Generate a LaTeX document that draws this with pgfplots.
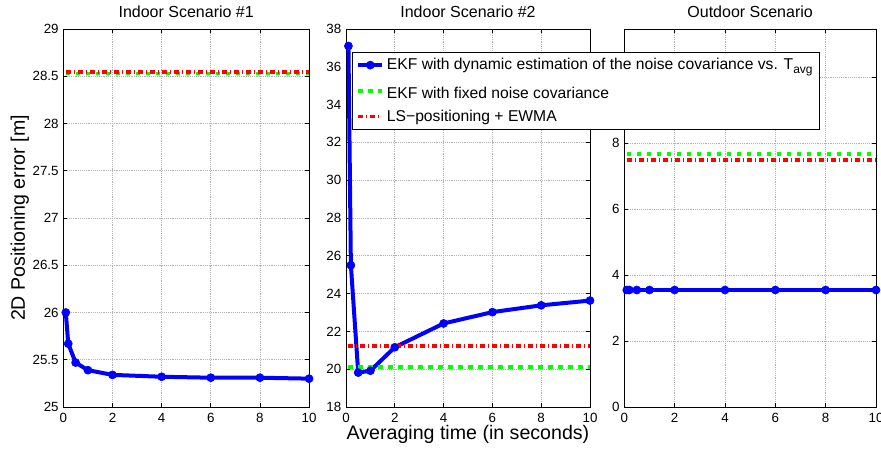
\documentclass[border=0pt]{standalone}
\usepackage{pgfplots}
\pgfplotsset{compat=1.18}
\usepackage{fontspec}
\setmainfont{Liberation Sans}
\definecolor{mblue}{RGB}{0,0,255}
\definecolor{mgreen}{RGB}{0,255,0}
\definecolor{mred}{RGB}{255,0,0}
\pgfplotsset{
  every axis/.style={
    scale only axis,
    height=283.5pt,
    anchor=south west,
    xmin=0, xmax=10,
    xtick={0,2,...,10},
    grid=major,
    grid style={densely dotted, gray!60, line width=0.5pt},
    axis line style={line width=0.6pt},
    tick style={black, line width=0.5pt},
    major tick length=3pt,
    tick align=inside,
    /pgf/number format/assume math mode=true,
    tick label style={font=\fontsize{10pt}{12pt}\selectfont},
    title style={font=\fontsize{12pt}{14pt}\selectfont, yshift=-1pt},
    label style={font=\fontsize{14.7pt}{17pt}\selectfont},
    xticklabel style={yshift=-1pt},
  },
  ekf/.style={color=mblue, line width=3pt, mark=*, mark size=3pt, mark options={solid, fill=mblue, line width=0.5pt}},
  fixed/.style={color=mgreen, line width=2.6pt, dash pattern=on 3.4pt off 4.1pt},
  lsq/.style={color=mred, line width=2.6pt, dash pattern=on 3.75pt off 2.25pt on 0.75pt off 2.25pt},
}
\begin{document}
\begin{tikzpicture}
\useasboundingbox (0,0) rectangle (660.75pt,337.5pt);
% Panel 1
\begin{axis}[
  at={(47.5pt,32.25pt)}, width=184.3pt,
  ymin=25, ymax=29, ytick={25,25.5,...,29},
  yticklabel style={/pgf/number format/fixed},
  title={Indoor Scenario \#1},
  ylabel={2D Positioning error [m]},
  ylabel style={yshift=-4pt},
]
\addplot[ekf] coordinates {(0.1,26.0) (0.2,25.67) (0.5,25.47) (1,25.39) (2,25.34) (4,25.32) (6,25.31) (8,25.31) (10,25.30)};
\addplot[fixed] coordinates {(0.1,28.53) (10,28.53)};
\addplot[lsq] coordinates {(0.1,28.545) (10,28.545)};
\end{axis}
% Panel 2
\begin{axis}[
  at={(259.5pt,32.25pt)}, width=183pt,
  ymin=18, ymax=38, ytick={18,20,...,38},
  title={Indoor Scenario \#2},
  xlabel={Averaging time (in seconds)},
  xlabel style={yshift=5pt},
]
\addplot[ekf] coordinates {(0.1,37.1) (0.2,25.5) (0.5,19.82) (1,19.92) (2,21.16) (4,22.42) (6,23.02) (8,23.38) (10,23.63)};
\addplot[fixed] coordinates {(0.1,20.12) (10,20.12)};
\addplot[lsq] coordinates {(0.1,21.23) (10,21.23)};
\end{axis}
% Panel 3
\begin{axis}[
  at={(468.2pt,32.25pt)}, width=188.8pt,
  ymin=0, ymax=11.47, ytick={0,2,...,10},
  title={Outdoor Scenario},
  legend style={
    at={(-1.082,0.939)}, anchor=north west,
    draw=black, line width=0.6pt, fill=white,
    font=\fontsize{11.75pt}{14pt}\selectfont,
    cells={anchor=west},
    inner xsep=3pt, inner ysep=2.5pt,
    row sep=3pt,
  },
  legend image code/.code={\draw[mark repeat=2,mark phase=2] plot coordinates {(0pt,0pt) (9pt,0pt) (18pt,0pt)};},
]
\addplot[ekf] coordinates {(0.1,3.55) (0.2,3.55) (0.5,3.55) (1,3.55) (2,3.55) (4,3.55) (6,3.55) (8,3.55) (10,3.55)};
\addplot[fixed] coordinates {(0.1,7.68) (10,7.68)};
\addplot[lsq] coordinates {(0.1,7.49) (10,7.49)};
\legend{EKF with dynamic estimation of the noise covariance vs. T\raisebox{-2.5pt}{\fontsize{9pt}{10pt}\selectfont avg}\hspace{23pt},
\rule{0pt}{13pt}EKF with fixed noise covariance,
LS−positioning + EWMA}
\end{axis}
\end{tikzpicture}
\end{document}
